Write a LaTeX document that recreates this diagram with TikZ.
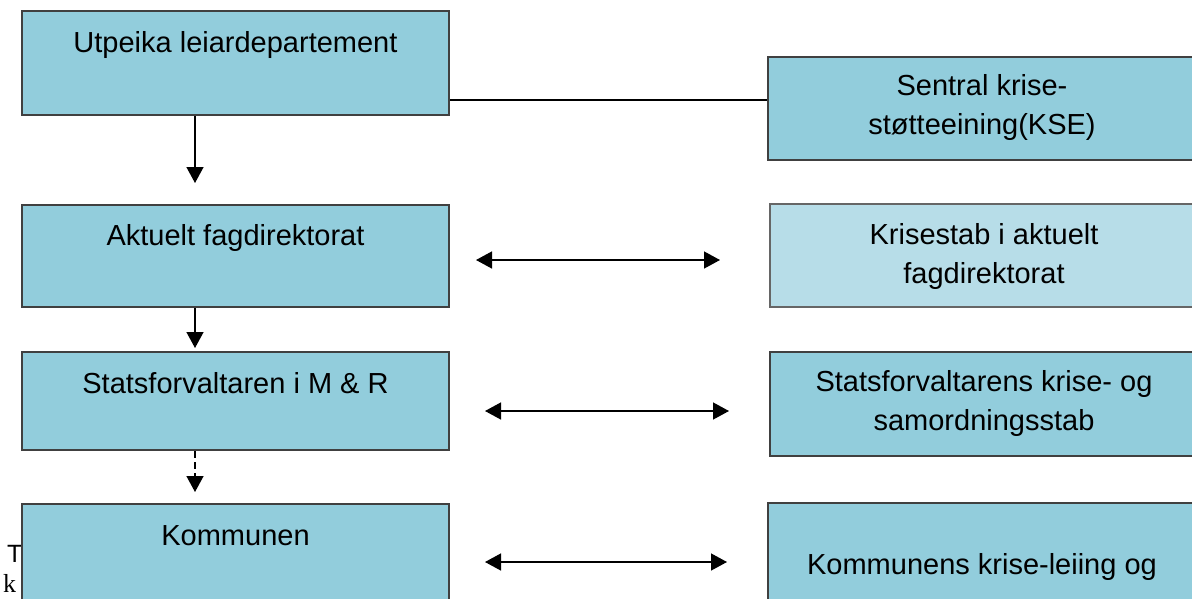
\documentclass[tikz,border=0pt]{standalone}
\usepackage{fontspec}
\setmainfont{Liberation Sans}
\newfontfamily\serifpart{Liberation Serif}
\usetikzlibrary{arrows.meta}
\definecolor{boxfill}{HTML}{92CDDC}
\definecolor{boxlight}{HTML}{B7DDE8}
\definecolor{boxline}{HTML}{404040}
\tikzset{
  orgbox/.style={draw=boxline, line width=2pt, fill=boxfill, rectangle, inner sep=0pt},
  lightbox/.style={orgbox, fill=boxlight, draw=boxline!80},
  lbl/.style={anchor=base, inner sep=0pt, font=\fontsize{29}{39}\selectfont, text=black},
  flow/.style={line width=1.4pt, -{Triangle[length=16pt,width=17pt]}},
  both/.style={line width=1.4pt, {Triangle[length=16pt,width=17pt]}-{Triangle[length=16pt,width=17pt]}},
  plain/.style={line width=1.2pt}
}
\begin{document}
\begin{tikzpicture}[x=1pt,y=-1pt]
\useasboundingbox (0,0) rectangle (1192,598);
\clip (0,0) rectangle (1192,598);
\fill[white] (0,0) rectangle (1192,598);

% fragments of text partly hidden behind the lowest box
\node[anchor=base west, inner sep=0pt, font=\fontsize{25}{28}\selectfont] (tfrag) at (7,562) {T};
\node[anchor=base west, inner sep=0pt, font=\serifpart\fontsize{26}{30}\selectfont] (kfrag) at (3,592) {k};

% left column boxes
\node[orgbox, minimum width=427pt, minimum height=104pt] (b1) at (235.5,63) {};
\node[orgbox, minimum width=427pt, minimum height=102pt] (b2) at (235.5,256) {};
\node[orgbox, minimum width=427pt, minimum height=98pt] (b3) at (235.5,401) {};
\node[orgbox, minimum width=427pt, minimum height=106pt] (b4) at (235.5,557) {};

% right column boxes
\node[orgbox, minimum width=428pt, minimum height=103pt] (r1) at (982,108.5) {};
\node[lightbox, minimum width=426pt, minimum height=103pt] (r2) at (983,255.5) {};
\node[orgbox, minimum width=426pt, minimum height=104pt] (r3) at (983,404) {};
\node[orgbox, minimum width=428pt, minimum height=107pt] (r4) at (982,556.5) {};

% texts
\node[lbl] (b1t) at (235.5,52) {Utpeika leiardepartement};
\node[lbl] (b2t) at (235.5,245) {Aktuelt fagdirektorat};
\node[lbl] (b3t) at (235.5,393) {Statsforvaltaren i M \& R};
\node[lbl] (b4t) at (235.5,545) {Kommunen};

\node[lbl] (r1a) at (982,95) {Sentral krise-};
\node[lbl] (r1b) at (982,134) {støtteeining(KSE)};
\node[lbl] (r2a) at (984,244) {Krisestab i aktuelt};
\node[lbl] (r2b) at (984,283) {fagdirektorat};
\node[lbl] (r3a) at (984,391) {Statsforvaltarens krise- og};
\node[lbl] (r3b) at (984,430) {samordningsstab};
\node[lbl] (r4a) at (982,574) {Kommunens krise-leiing og};

% connectors
\coordinate (link) at (0,100);
\draw[plain] (b1.east |- link) -- (r1.west |- link);

\coordinate (t1) at (195,183);
\coordinate (t2) at (195,348);
\coordinate (t3) at (195,492);
\draw[flow] (b1.south -| t1) -- (t1);
\draw[flow] (b2.south -| t2) -- (t2);
\draw[flow, dash pattern=on 7pt off 4pt] (b3.south -| t3) -- (t3);

\coordinate (h2a) at (476,260); \coordinate (h2b) at (720,260);
\coordinate (h3a) at (485,411); \coordinate (h3b) at (729,411);
\coordinate (h4a) at (485,562); \coordinate (h4b) at (727,562);
\draw[both] (h2a) -- (h2b);
\draw[both] (h3a) -- (h3b);
\draw[both] (h4a) -- (h4b);
\end{tikzpicture}
\end{document}
